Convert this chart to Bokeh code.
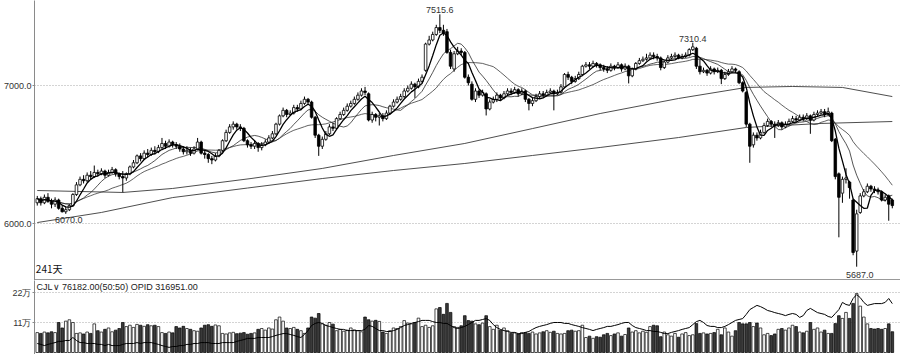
import numpy as np
import pandas as pd
from bokeh.plotting import figure
from bokeh.layouts import column
from bokeh.models import Range1d, FixedTicker, PrintfTickFormatter, Span
from bokeh.core.properties import value
from bokeh.embed import file_html
from bokeh.resources import INLINE

# ---------------- data ----------------
opens = [
    6150, 6180, 6150, 6190, 6160, 6140, 6170, 6110, 6085, 6100,
    6130, 6210, 6280, 6320, 6310, 6350, 6340, 6370, 6360, 6380,
    6350, 6370, 6390, 6360, 6340, 6330, 6360, 6410, 6440, 6490,
    6470, 6510, 6500, 6530, 6520, 6550, 6580, 6560, 6590, 6570,
    6560, 6540, 6520, 6530, 6510, 6540, 6590, 6510, 6500, 6470,
    6460, 6490, 6530, 6600, 6660, 6700, 6720, 6700, 6690, 6600,
    6570, 6560, 6580, 6550, 6570, 6590, 6620, 6650, 6720, 6780,
    6820, 6790, 6800, 6840, 6830, 6870, 6900, 6880, 6770, 6640,
    6560, 6610, 6650, 6700, 6690, 6760, 6790, 6820, 6850, 6870,
    6900, 6930, 6960, 6940, 6750, 6790, 6770, 6780, 6760, 6800,
    6850, 6880, 6900, 6920, 6960, 6980, 7010, 6990, 7030, 7110,
    7300, 7330, 7370, 7420, 7400, 7390, 7240, 7120, 7230, 7250,
    7240, 7060, 7010, 6900, 6960, 6930, 6940, 6830, 6880, 6900,
    6930, 6910, 6940, 6960, 6950, 6970, 6940, 6960, 6900, 6870,
    6890, 6920, 6940, 6930, 6950, 6960, 6940, 6950, 6990, 7080,
    7060, 7030, 7050, 7080, 7140, 7150, 7140, 7160, 7150, 7130,
    7120, 7110, 7140, 7130, 7150, 7120, 7140, 7070, 7120, 7160,
    7180, 7190, 7200, 7220, 7210, 7200, 7130, 7170, 7200, 7210,
    7220, 7200, 7210, 7220, 7260, 7270, 7140, 7100, 7110, 7090,
    7120, 7100, 7110, 7050, 7080, 7100, 7120, 7100, 7020, 6950,
    6720, 6570, 6640, 6620, 6660, 6710, 6740, 6720, 6710, 6730,
    6700, 6720, 6740, 6760, 6750, 6770, 6760, 6780, 6750, 6790,
    6800, 6810, 6790, 6800, 6610, 6360, 6220, 6320, 6300, 6170,
    5800, 6080, 6200, 6230, 6270, 6250, 6240, 6230, 6170, 6200, 6170,
]
highs = [
    6200, 6195, 6210, 6220, 6180, 6190, 6180, 6130, 6120, 6140,
    6220, 6300, 6340, 6350, 6370, 6380, 6420, 6390, 6400, 6390,
    6390, 6410, 6400, 6370, 6380, 6370, 6420, 6460, 6500, 6510,
    6530, 6540, 6550, 6560, 6570, 6620, 6600, 6610, 6600, 6590,
    6580, 6560, 6560, 6550, 6560, 6620, 6600, 6530, 6510, 6490,
    6510, 6540, 6610, 6680, 6720, 6740, 6730, 6720, 6700, 6610,
    6590, 6600, 6590, 6590, 6610, 6640, 6670, 6730, 6790, 6840,
    6830, 6820, 6860, 6860, 6890, 6920, 6910, 6890, 6780, 6650,
    6630, 6670, 6720, 6730, 6770, 6810, 6840, 6870, 6890, 6920,
    6950, 6980, 6990, 6950, 6810, 6800, 6800, 6800, 6820, 6860,
    6900, 6920, 6940, 6980, 7000, 7030, 7020, 7050, 7080, 7310,
    7360, 7390, 7440, 7515.6, 7440, 7410, 7260, 7250, 7280, 7270,
    7250, 7080, 7030, 6980, 6970, 6970, 6950, 6900, 6920, 6950,
    6940, 6960, 6980, 6980, 6990, 6980, 6980, 6970, 6910, 6910,
    6940, 6960, 6960, 6970, 6980, 6970, 6970, 7010, 7090, 7100,
    7070, 7070, 7100, 7150, 7170, 7170, 7180, 7170, 7160, 7150,
    7140, 7160, 7150, 7170, 7160, 7160, 7150, 7130, 7170, 7200,
    7210, 7230, 7240, 7240, 7230, 7210, 7180, 7220, 7230, 7240,
    7230, 7230, 7240, 7270, 7310.4, 7280, 7190, 7130, 7120, 7140,
    7130, 7130, 7120, 7100, 7120, 7140, 7130, 7110, 7030, 6960,
    6730, 6660, 6660, 6680, 6730, 6760, 6750, 6740, 6750, 6740,
    6740, 6760, 6780, 6780, 6790, 6790, 6800, 6790, 6810, 6820,
    6830, 6830, 6840, 6810, 6620, 6370, 6340, 6400, 6310, 6180,
    6100, 6220, 6250, 6290, 6280, 6270, 6260, 6240, 6210, 6210, 6180,
]
lows = [
    6130, 6130, 6140, 6150, 6110, 6120, 6100, 6080, 6070, 6090,
    6120, 6200, 6270, 6290, 6300, 6320, 6330, 6340, 6350, 6330,
    6340, 6360, 6340, 6320, 6225, 6310, 6350, 6400, 6430, 6450,
    6460, 6480, 6490, 6500, 6510, 6540, 6540, 6550, 6550, 6540,
    6520, 6500, 6500, 6490, 6500, 6530, 6500, 6470, 6440, 6430,
    6450, 6480, 6520, 6590, 6650, 6680, 6680, 6670, 6590, 6550,
    6540, 6540, 6520, 6530, 6560, 6580, 6610, 6640, 6710, 6770,
    6770, 6780, 6790, 6810, 6820, 6860, 6860, 6760, 6620, 6490,
    6540, 6600, 6640, 6670, 6680, 6750, 6780, 6810, 6840, 6860,
    6890, 6920, 6930, 6740, 6730, 6740, 6710, 6740, 6750, 6790,
    6840, 6870, 6890, 6910, 6950, 6970, 6910, 6980, 7020, 7100,
    7290, 7320, 7360, 7380, 7360, 7230, 7120, 7100, 7220, 7220,
    7050, 7000, 6890, 6880, 6910, 6920, 6783, 6820, 6870, 6880,
    6890, 6900, 6930, 6930, 6940, 6920, 6930, 6880, 6820, 6850,
    6880, 6910, 6910, 6920, 6940, 6820, 6930, 6940, 6980, 7040,
    7010, 7020, 7040, 7070, 7130, 7120, 7130, 7130, 7110, 7100,
    7090, 7100, 7110, 7120, 7100, 7110, 7015, 7060, 7110, 7150,
    7170, 7180, 7190, 7190, 7180, 7110, 7120, 7160, 7190, 7200,
    7190, 7190, 7200, 7210, 7250, 7120, 7080, 7090, 7070, 7080,
    7080, 7090, 7010, 7040, 7070, 7090, 7090, 7010, 6950, 6700,
    6440, 6550, 6600, 6610, 6650, 6700, 6700, 6620, 6700, 6680,
    6690, 6710, 6730, 6730, 6740, 6740, 6750, 6650, 6740, 6780,
    6790, 6770, 6780, 6590, 6320, 5900, 6150, 6290, 6180, 5770,
    5687, 6070, 6190, 6220, 6230, 6220, 6210, 6160, 6160, 6020, 6110,
]
closes = [
    6180, 6150, 6190, 6160, 6140, 6170, 6110, 6085, 6100, 6130,
    6210, 6280, 6320, 6310, 6350, 6340, 6370, 6360, 6380, 6350,
    6370, 6390, 6360, 6340, 6330, 6360, 6410, 6440, 6490, 6470,
    6510, 6500, 6530, 6520, 6550, 6580, 6560, 6590, 6570, 6560,
    6540, 6520, 6530, 6510, 6540, 6590, 6510, 6500, 6470, 6460,
    6490, 6530, 6600, 6660, 6700, 6720, 6700, 6690, 6600, 6570,
    6560, 6580, 6550, 6570, 6590, 6620, 6650, 6720, 6780, 6820,
    6790, 6800, 6840, 6830, 6870, 6900, 6880, 6770, 6640, 6560,
    6610, 6650, 6700, 6690, 6760, 6790, 6820, 6850, 6870, 6900,
    6930, 6960, 6950, 6750, 6790, 6770, 6780, 6760, 6800, 6850,
    6880, 6900, 6920, 6960, 6980, 7010, 6990, 7030, 7060, 7300,
    7330, 7370, 7420, 7400, 7380, 7240, 7140, 7230, 7250, 7240,
    7060, 7020, 6900, 6960, 6930, 6950, 6830, 6880, 6900, 6930,
    6910, 6940, 6960, 6950, 6970, 6940, 6960, 6900, 6870, 6890,
    6920, 6940, 6930, 6950, 6960, 6940, 6950, 6990, 7080, 7060,
    7030, 7050, 7080, 7140, 7150, 7140, 7160, 7150, 7130, 7120,
    7110, 7140, 7130, 7150, 7120, 7140, 7070, 7120, 7160, 7180,
    7190, 7200, 7220, 7210, 7200, 7130, 7170, 7200, 7210, 7220,
    7200, 7210, 7220, 7260, 7280, 7140, 7100, 7110, 7090, 7120,
    7100, 7110, 7050, 7080, 7100, 7120, 7110, 7020, 6960, 6720,
    6560, 6640, 6620, 6660, 6710, 6740, 6720, 6710, 6730, 6700,
    6720, 6740, 6760, 6750, 6770, 6760, 6780, 6750, 6790, 6800,
    6810, 6790, 6810, 6600, 6340, 6190, 6320, 6330, 6260, 5790,
    6070, 6200, 6230, 6270, 6250, 6240, 6230, 6170, 6190, 6140, 6130,
]
# volume, in 万 (10,000 lots)
volumes = [
    7.3, 7.0, 7.5, 7.2, 7.6, 7.3, 11.0, 9.0, 11.5, 12.0,
    11.0, 7.0, 7.2, 6.8, 7.5, 7.0, 10.5, 8.0, 7.5, 8.5,
    9.0, 7.6, 8.2, 8.8, 11.0, 9.5, 10.0, 9.2, 10.3, 10.0,
    9.6, 10.2, 9.8, 10.0, 9.5, 7.3, 7.0, 7.5, 7.2, 9.5,
    9.0, 9.6, 8.8, 8.5, 8.0, 7.8, 9.0, 10.0, 10.2, 9.6,
    10.1, 9.8, 7.0, 6.8, 7.2, 7.4, 6.9, 7.1, 7.3, 6.7,
    7.0, 7.2, 8.5, 8.8, 8.2, 9.0, 8.6, 12.0, 13.0, 11.5,
    9.0, 8.8, 9.2, 8.5, 8.0, 7.0, 9.0, 13.0, 12.6, 14.3,
    10.5, 10.0, 11.0, 10.4, 8.0, 8.5, 7.8, 8.2, 9.0, 8.3,
    8.0, 7.6, 13.0, 12.0, 11.5, 11.8, 11.4, 7.5, 7.0, 8.0,
    9.0, 8.8, 9.5, 11.7, 10.8, 10.5, 11.0, 12.6, 9.5, 10.0,
    9.2, 9.8, 16.0, 16.5, 14.0, 18.0, 14.7, 9.5, 9.2, 9.8,
    13.5, 11.7, 11.5, 10.5, 10.2, 10.8, 13.5, 9.5, 8.5, 10.0,
    8.2, 9.0, 8.0, 7.0, 7.2, 6.8, 7.3, 7.3, 7.0, 7.5,
    6.8, 7.2, 7.6, 8.0, 7.4, 7.8, 7.0, 6.8, 7.0, 8.0,
    8.2, 7.8, 8.0, 10.0, 5.5, 6.0, 5.2, 5.8, 5.6, 6.5,
    7.0, 6.2, 6.8, 7.2, 6.0, 6.6, 9.0, 7.5, 8.0, 7.2,
    7.8, 7.4, 9.5, 10.0, 9.8, 5.8, 7.5, 6.5, 6.0, 7.0,
    5.6, 6.8, 7.3, 6.2, 6.5, 10.6, 7.0, 7.2, 6.8, 7.0,
    7.3, 8.5, 6.5, 9.0, 7.5, 6.0, 8.0, 11.0, 10.5, 10.5,
    11.0, 9.5, 10.8, 9.0, 6.5, 7.0, 6.2, 6.8, 8.5, 8.8,
    8.2, 9.0, 10.0, 9.5, 7.5, 7.2, 7.8, 11.0, 8.5, 9.0,
    7.5, 8.2, 7.0, 7.0, 10.6, 13.5, 12.5, 14.7, 12.5, 18.0,
    21.6, 17.0, 13.0, 10.5, 8.8, 8.6, 8.8, 8.5, 8.8, 10.5, 7.6182,
]
# open interest, in 万
open_interest = [
    18.4, 18.1, 17.7, 18.1, 18.4, 18.7, 19.1, 19.1, 19.4, 19.4,
    20.4, 19.4, 18.7, 18.7, 18.4, 18.4, 18.4, 18.1, 18.1, 17.7,
    18.1, 17.7, 17.7, 17.7, 18.1, 18.4, 18.4, 18.4, 18.7, 18.4,
    18.7, 18.7, 18.7, 18.4, 18.1, 17.7, 17.4, 17.1, 17.4, 17.4,
    17.7, 17.7, 18.1, 18.1, 18.4, 18.4, 18.7, 18.7, 18.7, 18.4,
    18.4, 18.4, 18.7, 18.7, 18.7, 18.7, 19.1, 19.4, 19.7, 20.1,
    20.1, 20.1, 20.4, 20.4, 20.4, 20.4, 20.7, 21.1, 21.4, 21.7,
    21.7, 21.4, 21.1, 20.7, 20.4, 21.4, 22.7, 24.4, 25.1, 25.4,
    25.1, 24.4, 24.1, 23.7, 23.4, 23.1, 23.1, 22.7, 22.7, 22.7,
    22.7, 22.7, 23.1, 24.4, 24.1, 23.4, 22.7, 22.7, 22.4, 22.4,
    22.7, 23.1, 23.7, 24.4, 24.7, 25.1, 25.4, 25.7, 26.1, 26.1,
    26.1, 25.7, 25.4, 25.4, 25.1, 25.1, 24.4, 23.7, 23.4, 23.7,
    24.1, 24.7, 25.4, 26.1, 26.1, 26.4, 26.7, 26.1, 24.7, 23.7,
    23.1, 22.7, 22.4, 22.1, 22.1, 21.7, 21.7, 22.1, 22.4, 23.1,
    23.7, 24.1, 24.4, 24.7, 25.1, 25.4, 25.4, 25.4, 25.1, 25.1,
    24.7, 24.4, 24.1, 23.7, 23.4, 23.1, 22.7, 23.1, 23.4, 23.7,
    24.1, 24.1, 24.4, 24.7, 25.1, 25.4, 25.4, 24.4, 23.7, 23.4,
    23.1, 22.7, 22.7, 22.4, 22.4, 22.1, 21.7, 21.7, 22.1, 22.4,
    22.7, 23.1, 23.4, 23.7, 24.7, 25.7, 26.1, 25.4, 24.4, 24.1,
    24.1, 23.7, 23.7, 24.1, 24.7, 25.4, 26.1, 26.4, 26.7, 28.1,
    29.7, 30.4, 31.1, 30.7, 30.1, 29.4, 29.1, 28.7, 28.4, 28.1,
    27.7, 28.1, 28.4, 28.1, 27.1, 27.7, 29.4, 30.1, 29.4, 28.7,
    28.4, 28.1, 27.4, 27.1, 28.4, 29.7, 32.1, 31.4, 31.1, 33.4,
    34.7, 33.7, 32.1, 31.1, 31.4, 31.7, 31.7, 31.7, 32.1, 33.4, 31.6951,
]
# long moving averages (history before the window is not visible) read as knots
ma120_bar = [0, 24, 38, 60, 80, 100, 120, 139, 158, 180, 199, 212, 226, 240]
ma120_val = [6239, 6225, 6254, 6326, 6399, 6493, 6580, 6688, 6797, 6906, 6986, 6993, 6986, 6920]
ma250_bar = [0, 18, 38, 59, 80, 100, 120, 139, 158, 180, 199, 220, 240]
ma250_val = [6007, 6080, 6188, 6257, 6326, 6384, 6435, 6493, 6551, 6623, 6696, 6725, 6739]
price_ticks = [6000, 7000]
vol_ticks = [11, 22]
vol_tick_labels = {11: "11万", 22: "22万"}

n = len(closes)
for arr in (opens, highs, lows, volumes, open_interest):
    assert len(arr) == n, len(arr)

# ---------------- build ----------------
NUM_FONT = "Liberation Sans"
CJK_FONT = "Noto Sans CJK SC"
TXT = "#333333"

idx = np.arange(n)
o = np.array(opens, float)
h = np.array(highs, float)
l = np.array(lows, float)
c = np.array(closes, float)
up = c >= o

p = figure(width=900, height=280, x_range=Range1d(-0.78, 242.3),
           y_range=Range1d(5587, 7616), output_backend="svg",
           toolbar_location=None, x_axis_location=None,
           min_border_left=32, min_border_right=0, min_border_top=0,
           min_border_bottom=0, outline_line_color=None)
p.xgrid.grid_line_color = None
p.ygrid.ticker = FixedTicker(ticks=price_ticks)
p.ygrid.grid_line_color = "#a8a8a8"
p.ygrid.grid_line_dash = "1 2"
ax = p.yaxis[0]
ax.ticker = FixedTicker(ticks=price_ticks)
ax.formatter = PrintfTickFormatter(format="%.1f")
ax.axis_line_color = "#8a8a8a"
ax.major_tick_line_color = "#8a8a8a"
ax.major_tick_out = 2
ax.major_tick_in = 0
ax.minor_tick_line_color = None
ax.major_label_standoff = 1
ax.major_label_text_font = NUM_FONT
ax.major_label_text_font_size = "9px"
ax.major_label_text_color = TXT

# long averages
p.line(ma250_bar, ma250_val, line_color="#3a3a3a", line_width=0.9)
p.line(ma120_bar, ma120_val, line_color="#3a3a3a", line_width=0.9)

# short averages from closes
cs = pd.Series(c)
ma5 = cs.rolling(5, min_periods=1).mean().values
ma10 = cs.rolling(10, min_periods=1).mean().values
ma20 = cs.rolling(20, min_periods=1).mean().values
p.line(idx, ma20, line_color="#3a3a3a", line_width=0.8)
p.line(idx, ma10, line_color="#2a2a2a", line_width=0.8)

# candles
p.segment(x0=idx, y0=h, x1=idx, y1=l, line_color="black", line_width=1)
p.vbar(x=idx, width=0.72, top=np.maximum(o, c), bottom=np.minimum(o, c),
       fill_color=["white" if u else "black" for u in up],
       line_color="black", line_width=0.8)
p.line(idx, ma5, line_color="black", line_width=1.3)

# extreme-value labels
lab = dict(text_font=value(NUM_FONT), text_font_size="9px", text_color=TXT,
           text_align="center")
i_hi = int(np.argmax(h))
p.text(x=[i_hi], y=[h[i_hi]], text=[f"{h[i_hi]:.1f}"], text_baseline="bottom",
       y_offset=-1, **lab)
i_hi2 = 150 + int(np.argmax(h[150:]))
p.text(x=[i_hi2], y=[h[i_hi2]], text=[f"{h[i_hi2]:.1f}"], text_baseline="bottom",
       y_offset=-1, **lab)
i_lo1 = int(np.argmin(l[:40]))
p.text(x=[i_lo1], y=[l[i_lo1]], text=[f"{l[i_lo1]:.1f}"], text_baseline="top",
       y_offset=3, x_offset=3, **lab)
i_lo = int(np.argmin(l))
p.text(x=[i_lo], y=[l[i_lo]], text=[f"{l[i_lo]:.1f}"], text_baseline="top",
       y_offset=5, x_offset=3, **lab)

p.text(x=[-0.4], y=[5618], text=[f"{n}天"], text_font=value(CJK_FONT),
       text_font_size="10px", text_color="#111111", text_baseline="bottom")
p.add_layout(Span(location=5590, dimension="width", line_color="#777777",
                  line_width=1.5))

# ---------------- volume / open interest panel ----------------
q = figure(width=900, height=74, x_range=p.x_range, y_range=Range1d(-0.733, 26.4),
           output_backend="svg", toolbar_location=None, x_axis_location=None,
           min_border_left=32, min_border_right=0, min_border_top=0,
           min_border_bottom=0, outline_line_color=None)
q.extra_y_ranges = {"oi": Range1d(14.73, 39.4)}
q.xgrid.grid_line_color = None
q.ygrid.ticker = FixedTicker(ticks=vol_ticks)
q.ygrid.grid_line_color = "#a8a8a8"
q.ygrid.grid_line_dash = "1 2"
qa = q.yaxis[0]
qa.ticker = FixedTicker(ticks=vol_ticks)
qa.major_label_overrides = vol_tick_labels
qa.axis_line_color = "#8a8a8a"
qa.major_tick_line_color = "#8a8a8a"
qa.major_tick_out = 2
qa.major_tick_in = 0
qa.minor_tick_line_color = None
qa.major_label_standoff = 1
qa.major_label_text_font = NUM_FONT
qa.major_label_text_font_size = "9px"
qa.major_label_text_color = TXT

vol = np.array(volumes, float)
q.vbar(x=idx, width=0.75, top=vol, bottom=0,
       fill_color=["white" if u else "#3a3a3a" for u in up],
       line_color="black", line_width=0.7)
oi = np.array(open_interest, float)
q.line(idx, oi, y_range_name="oi", line_color="black", line_width=1)

header = f"CJL∨  {vol[-1] * 1e4:.2f}(50:50)   OPID {oi[-1] * 1e4:.2f}"
q.text(x=[-0.2], y=[24.2], text=[header], text_font=value(NUM_FONT),
       text_font_size="9px", text_color="#222222", text_baseline="middle")

layout = column(p, q, spacing=0)
open("out.html", "w").write(file_html(layout, INLINE))
